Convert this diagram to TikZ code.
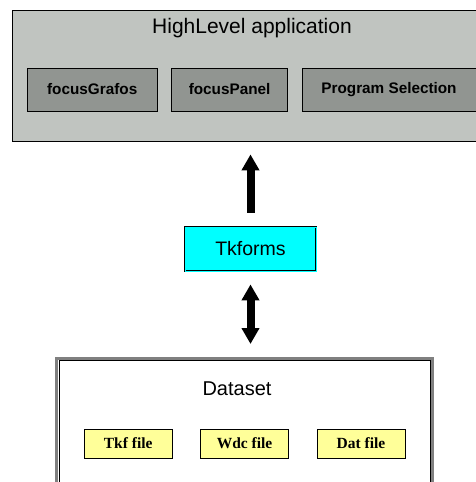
\documentclass[tikz,border=0pt]{standalone}
\usepackage{fontspec}
\setmainfont{Liberation Sans}
\newfontfamily\timesfont{Liberation Serif}
\usetikzlibrary{arrows.meta,positioning}

\definecolor{panelgray}{RGB}{192,196,192}
\definecolor{modgray}{RGB}{145,149,145}
\definecolor{fileyellow}{RGB}{255,255,153}
\definecolor{tkcyan}{RGB}{0,255,255}

\begin{document}
\begin{tikzpicture}[
  x=1pt, y=-1pt,
  font=\fontsize{15}{17}\selectfont,
  node distance=14pt,
  module/.style={draw, fill=modgray, minimum height=43pt, inner sep=0pt, font=\fontsize{15.3}{17}\selectfont\bfseries},
  filebox/.style={draw, fill=fileyellow, minimum width=88pt, minimum height=29pt, inner sep=0pt, font=\timesfont\fontsize{15.5}{17}\selectfont\bfseries},
  bigarrow/.style={line width=8pt, -{Triangle[width=17pt,length=16pt]}},
  dblarrow/.style={line width=8pt, {Triangle[width=17pt,length=16pt]}-{Triangle[width=17pt,length=16pt]}}
]
\useasboundingbox (0,0) rectangle (476,482);
\clip (0,0) rectangle (476,482);
\node[draw, fill=panelgray, minimum width=468pt, minimum height=131pt, anchor=north west, inner sep=0pt] (hl) at (12,10) {};
\node[font=\fontsize{21}{23}\selectfont] (hltitle) at (252,28) {HighLevel application};
\node[module, minimum width=130pt, anchor=west] (grafos) at (27,89.5) {focusGrafos};
\node[module, minimum width=116pt, right=of grafos] (panel) {focusPanel};
\node[module, minimum width=174pt, right=of panel] (progsel) {Program Selection};

\node[draw=black, double=tkcyan, double distance=1pt, line width=0.8pt, fill=tkcyan, minimum width=131pt, minimum height=44pt, font=\fontsize{19.5}{21}\selectfont] (tk) at (250.5,249) {Tkforms};

\node[draw=black, line width=1pt, minimum width=371pt, minimum height=160pt, anchor=north west, inner sep=0pt] (ds) at (58.5,360) {};
\draw[gray, line width=3pt] ([xshift=-2pt, yshift=2pt]ds.north west) rectangle ([xshift=2pt, yshift=-2pt]ds.south east);
\node[font=\fontsize{20}{22}\selectfont] (dstitle) at (237,389) {Dataset};
\node[filebox, anchor=west] (tkf) at (84,443.5) {Tkf file};
\node[filebox, right=28pt of tkf] (wdc) {Wdc file};
\node[filebox, right=28pt of wdc] (dat) {Dat file};

\draw[bigarrow, shorten <=14pt, shorten >=13pt] (tk.north) -- (tk.north |- hl.south);
\draw[dblarrow, shorten <=13pt, shorten >=16pt] (tk.south) -- (tk.south |- ds.north);
\end{tikzpicture}
\end{document}
